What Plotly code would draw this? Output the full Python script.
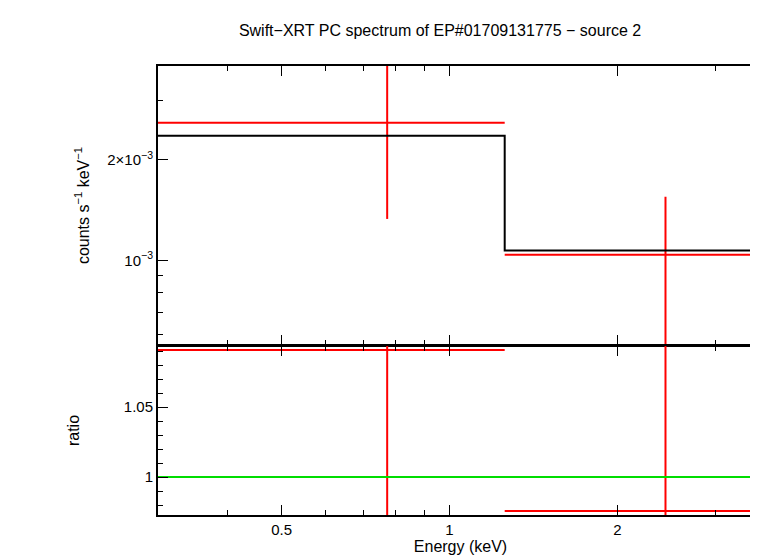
import plotly.graph_objects as go

bin_lo = [0.3, 1.256]
bin_hi = [1.256, 3.65]
bin_c = [0.773, 2.44]
rate = [2.58e-3, 1.04e-3]
rate_lo = [1.33e-3, 1.0e-4]
rate_hi = [6.0e-3, 1.55e-3]
model = [2.36e-3, 1.071e-3]
ratio = [1.0907, 0.9757]

fig = go.Figure()
red = "#ff0000"
for i in range(2):
    fig.add_trace(go.Scatter(x=[bin_lo[i], bin_hi[i]], y=[rate[i]]*2, mode="lines",
                             line=dict(color=red, width=2), xaxis="x", yaxis="y"))
    fig.add_trace(go.Scatter(x=[bin_c[i]]*2, y=[rate_lo[i], rate_hi[i]], mode="lines",
                             line=dict(color=red, width=2), xaxis="x", yaxis="y"))
    fig.add_trace(go.Scatter(x=[bin_lo[i], bin_hi[i]], y=[ratio[i]]*2, mode="lines",
                             line=dict(color=red, width=2), xaxis="x2", yaxis="y2"))
    fig.add_trace(go.Scatter(x=[bin_c[i]]*2, y=[0.9, 1.2], mode="lines",
                             line=dict(color=red, width=2), xaxis="x2", yaxis="y2"))
fig.add_trace(go.Scatter(x=[bin_lo[0], bin_hi[0], bin_hi[1]], y=[model[0], model[1], model[1]],
                         mode="lines", line=dict(color="black", width=2, shape="hv"),
                         xaxis="x", yaxis="y"))
fig.add_trace(go.Scatter(x=[0.3, 3.65], y=[1, 1], mode="lines",
                         line=dict(color="#00dd00", width=2), xaxis="x2", yaxis="y2"))

split = 169/449
xcommon = dict(type="log", range=[-0.5229, 0.5623], showgrid=False, zeroline=False,
               showline=True, linecolor="black", linewidth=2, mirror="ticks", automargin=False,
               ticks="inside", ticklen=10, tickcolor="black", tickwidth=1,
               minor=dict(ticks="inside", ticklen=5, tickvals=[0.3,0.4,0.6,0.7,0.8,0.9,3], tickcolor="black"),
               tickvals=[0.5, 1, 2], ticktext=["0.5", "1", "2"])
ycommon = dict(showgrid=False, zeroline=False, showline=True, linecolor="black", linewidth=2,
               mirror="ticks", ticks="inside", ticklen=10, tickcolor="black", automargin=False)
fig.update_layout(
    width=758, height=558, showlegend=False,
    plot_bgcolor="white", paper_bgcolor="white",
    margin=dict(l=150, r=3, t=58, b=51),
    font=dict(family="Liberation Sans", size=15, color="black"),
    title=dict(text="Swift−XRT PC spectrum of EP#01709131775 − source 2", x=0.57, y=0.97,
               xanchor="center", font=dict(size=16)),
    xaxis=dict(**xcommon, anchor="y", showticklabels=False, matches="x2"),
    xaxis2=dict(**xcommon, anchor="y2",
                title=dict(text="Energy (keV)", standoff=4, font=dict(size=16))),
    yaxis=dict(**ycommon, type="log", domain=[split + 0.002, 1], range=[-3.2534, -2.4188], anchor="x",
               tickvals=[1e-3, 2e-3], ticktext=["10<sup>−3</sup>", "2×10<sup>−3</sup>"],
               minor=dict(ticks="inside", ticklen=5, tickvals=[6e-4,7e-4,8e-4,9e-4,3e-3], tickcolor="black"),
               title=dict(text="counts s<sup>−1</sup> keV<sup>−1</sup>", standoff=14, font=dict(size=16))),
    yaxis2=dict(**ycommon, domain=[0, split], range=[0.9729, 1.0936], anchor="x2",
                tickvals=[1, 1.05], ticktext=["1", "1.05"],
                minor=dict(ticks="inside", ticklen=5, dtick=0.01, tickcolor="black"),
                title=dict(text="ratio", standoff=40, font=dict(size=16))),
)
fig.write_html("out.html")
